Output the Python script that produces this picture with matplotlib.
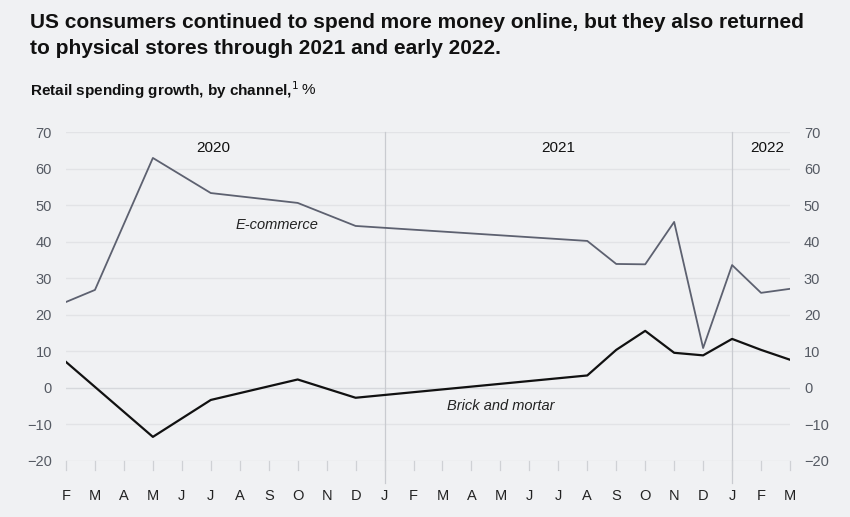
import matplotlib
matplotlib.use("Agg")
from matplotlib import pyplot as plt

# months from Feb 2020 to Mar 2022
months = ["F", "M", "A", "M", "J", "J", "A", "S", "O", "N", "D",
          "J", "F", "M", "A", "M", "J", "J", "A", "S", "O", "N", "D",
          "J", "F", "M"]

# month index and value of each vertex
ecom_x = [0, 1, 3, 5, 8, 10, 18, 19, 20, 21, 22, 23, 24, 25]
ecom_y = [23.5, 26.8, 62.9, 53.3, 50.6, 44.3, 40.2, 33.9, 33.8, 45.4, 10.9, 33.6, 26.0, 27.1]

brick_x = [0, 3, 5, 8, 10, 18, 19, 20, 21, 22, 23, 24, 25]
brick_y = [7.1, -13.4, -3.3, 2.3, -2.7, 3.4, 10.4, 15.6, 9.6, 8.9, 13.4, 10.4, 7.7]

yticks = [-20, -10, 0, 10, 20, 30, 40, 50, 60, 70]
years = ["2020", "2021", "2022"]
year_pos = [5.1, 17.0, 24.2]
year_breaks = [11, 23]

bg = "#f0f1f3"
plt.rcParams["font.family"] = ["Liberation Sans", "DejaVu Sans"]

fig = plt.figure(figsize=(8.5, 5.17), dpi=100, facecolor=bg)
ax = fig.add_axes([66 / 850, 1 - 461 / 517, 724 / 850, 329 / 517])
ax.set_facecolor(bg)

for y in yticks:
    c = "#d6d8dc" if y == 0 else "#e2e3e6"
    ax.axhline(y, color=c, lw=1.0, zorder=1)

for b in year_breaks:
    ax.plot([b, b], [70, -26], color="#c9cbd0", lw=0.9, clip_on=False, zorder=1)

# small month ticks below the -20 line
for i in range(len(months)):
    ax.plot([i, i], [-20, -22.5], color="#cfd1d5", lw=0.9, clip_on=False, zorder=1)
    ax.text(i, -29.5, months[i], ha="center", va="center", fontsize=10.5,
            color="#222222")

ax.plot(ecom_x, ecom_y, color="#5d6170", lw=1.3, zorder=3)
ax.plot(brick_x, brick_y, color="#111111", lw=1.6, zorder=3)

ax.text(7.3, 44.5, "E-commerce", style="italic", fontsize=10.5, ha="center",
        va="center", color="#222222")
ax.text(15.0, -5.0, "Brick and mortar", style="italic", fontsize=10.5,
        ha="center", va="center", color="#222222")

for name, x in zip(years, year_pos):
    ax.text(x, 65.7, name, ha="center", va="center", fontsize=11, color="#111111")

ax.set_xlim(0, 25)
ax.set_ylim(-20, 70)
ax.set_xticks([])
ax.set_yticks(yticks)
ax.set_yticklabels([("\u2212" + str(-v)) if v < 0 else str(v) for v in yticks])
ax.tick_params(axis="y", length=0, labelsize=10.5, labelcolor="#555a63", pad=10,
               labelright=True)
for s in ax.spines.values():
    s.set_visible(False)

fig.text(30 / 850, 1 - 22 / 517, "US consumers continued to spend more money online, but they also returned",
         fontsize=15, fontweight="bold", va="center", color="#111111")
fig.text(30 / 850, 1 - 48 / 517, "to physical stores through 2021 and early 2022.",
         fontsize=15, fontweight="bold", va="center", color="#111111")
sub = fig.text(30 / 850, 1 - 90 / 517, "Retail spending growth, by channel,$^{1}$",
               fontsize=11, fontweight="bold", va="center", color="#111111")
fig.canvas.draw()
bb = sub.get_window_extent()
fig.text(bb.x1 / 850 + 3 / 850, 1 - 90 / 517, "%", fontsize=11, va="center",
         color="#111111")

fig.savefig("out.png", dpi=100, facecolor=bg)
